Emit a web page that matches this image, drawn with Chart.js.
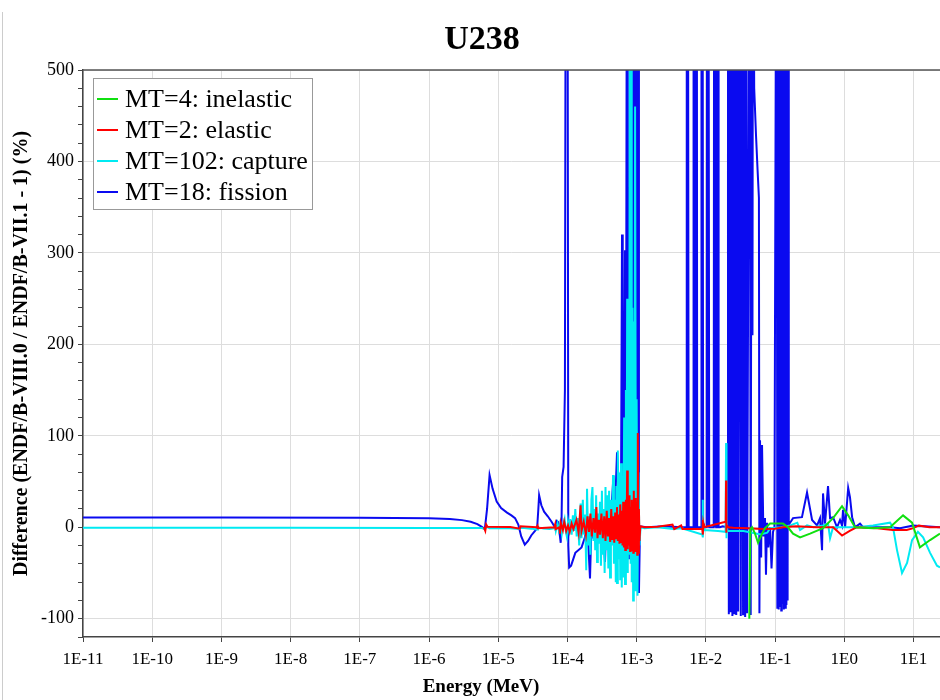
<!DOCTYPE html>
<html>
<head>
<meta charset="utf-8">
<title>U238</title>
<script src="https://cdn.jsdelivr.net/npm/chart.js@4.4.1/dist/chart.umd.min.js"></script>
<style>
  html, body { margin: 0; padding: 0; background: #fff; }
  canvas { display: block; }
</style>
</head>
<body>
<canvas id="chart" width="940" height="700"></canvas>
<script>
const chartTitle = 'U238';
const xTitle = 'Energy (MeV)';
const yTitle = 'Difference (ENDF/B-VIII.0 / ENDF/B-VII.1 - 1) (%)';

// decade exponents for the energy axis labels (1E-11 ... 1E1)
const energyDecades = [-11, -10, -9, -8, -7, -6, -5, -4, -3, -2, -1, 0, 1];
const diffMin = -120;
const diffMax = 500;

// MT=4 inelastic (starts at threshold)
const inelasticE = [0.0425, 0.044, 0.0466, 0.0514, 0.0568, 0.0649, 0.0716, 0.0847, 0.1, 0.1306, 0.154, 0.182,
  0.23, 0.321, 0.494, 0.689, 0.929, 1.14, 1.43, 2.61, 4.59, 7.08, 9.55, 12.4, 17.4, 24.2];
const inelasticDiff = [-100, -2, 0, -7, -17, -7, -1, 4, 4, 4, 0, -7,
  -11, -7, -1, 10, 23, 13, 0, -1, 0, 13, 5, -22, -14, -7];

// MT=2 elastic
const elasticE = [6.2e-6, 6.5e-6, 6.7e-6, 7.0e-6, 1.5e-5, 2.05e-5, 2.1e-5, 3.6e-5, 3.7e-5, 3.75e-5, 6.5e-5, 6.65e-5,
  6.75e-5, 7.6e-5, 7.8e-5, 8.0e-5, 8.6e-5, 9.0e-5, 9.6e-5, 1.02e-4, 1.08e-4, 1.15e-4, 1.22e-4, 1.35e-4,
  1.45e-4, 1.55e-4, 1.6e-4, 1.72e-4, 1.85e-4, 1.95e-4, 2.05e-4, 2.15e-4, 2.25e-4, 2.38e-4, 2.5e-4, 2.62e-4,
  2.72e-4, 2.85e-4, 2.96e-4, 3.1e-4, 3.25e-4, 3.4e-4, 3.55e-4, 3.7e-4, 3.85e-4, 4.0e-4, 4.15e-4, 4.3e-4,
  4.45e-4, 4.6e-4, 4.75e-4, 4.9e-4, 5.05e-4, 5.2e-4, 5.35e-4, 5.5e-4, 5.65e-4, 5.8e-4, 5.95e-4, 6.1e-4,
  6.25e-4, 6.4e-4, 6.55e-4, 6.7e-4, 6.85e-4, 7.0e-4, 7.15e-4, 7.3e-4, 7.45e-4, 7.6e-4, 7.75e-4, 7.9e-4,
  8.05e-4, 8.2e-4, 8.35e-4, 8.5e-4, 8.65e-4, 8.8e-4, 8.95e-4, 9.1e-4, 9.25e-4, 9.4e-4, 9.55e-4, 9.7e-4,
  9.85e-4, 1.0e-3, 1.02e-3, 1.04e-3, 1.06e-3, 1.08e-3, 1.1e-3, 1.13e-3, 1.3e-3, 2.0e-3, 3.3e-3, 3.5e-3,
  4.4e-3, 4.6e-3, 8.9e-3, 9.0e-3, 9.1e-3, 9.2e-3, 9.4e-3, 1.94e-2, 1.96e-2, 1.97e-2, 1.99e-2, 2.1e-2,
  2.5e-2, 4.0e-2, 5.5e-2, 7.0e-2, 0.1, 0.13, 0.2, 0.4, 0.69, 0.93, 1.2, 1.5, 3.0, 5.0, 8.0, 10.0, 12.0, 17.0, 24.2];
const elasticDiff = [0, -4, 3, 0.5, 0.3, -1.5, 1, 0, 1.5, -1, 0, 3,
  -2, 0, -7, 5, -3, 6, -4, 2, -5, 4, -2, 8,
  -6, 24, -4, 6, -8, 12, -5, 15, -10, 10, -6, 22,
  -12, 8, -8, 15, -12, 12, -15, 18, -10, 10, -16, 20,
  -14, 12, -17, 16, -12, 22, -15, 14, -18, 25, -16, 18,
  -20, 28, -22, 20, -25, 30, -18, 62, -24, 26, -20, 35,
  -26, 22, -22, 30, -25, 20, -28, 40, -20, 25, -26, 32,
  -24, 28, -30, 103, -28, 20, -15, 1, 0, 0.5, 3, -2,
  2, -2, -2, 8, -8, 4, 0, 6, 51, -6, 3, 0,
  -0.5, -1, -1.5, -2, -1.5, 0, 1, 0, 0, -9, -4, 0, -1, -3, -3, -1, 2, 0, 0];

// MT=102 capture
const captureE = [1e-11, 1e-8, 1e-6, 5.8e-6, 6.4e-6, 6.8e-6, 7.5e-6, 1.5e-5, 2.0e-5, 2.2e-5, 3.0e-5, 3.65e-5,
  3.75e-5, 4.5e-5, 5.5e-5, 6.4e-5, 6.6e-5, 6.8e-5, 7.2e-5, 7.5e-5, 7.9e-5, 8.3e-5, 8.7e-5, 9.1e-5,
  9.5e-5, 9.8e-5, 1.02e-4, 1.06e-4, 1.1e-4, 1.15e-4, 1.2e-4, 1.25e-4, 1.3e-4, 1.36e-4, 1.42e-4, 1.48e-4,
  1.55e-4, 1.6e-4, 1.67e-4, 1.72e-4, 1.8e-4, 1.87e-4, 1.92e-4, 2.0e-4, 2.08e-4, 2.15e-4, 2.22e-4, 2.3e-4,
  2.38e-4, 2.45e-4, 2.52e-4, 2.6e-4, 2.68e-4, 2.75e-4, 2.85e-4, 2.95e-4, 3.05e-4, 3.15e-4, 3.25e-4, 3.35e-4,
  3.45e-4, 3.55e-4, 3.65e-4, 3.78e-4, 3.9e-4, 4.0e-4, 4.13e-4, 4.25e-4, 4.4e-4, 4.56e-4, 4.7e-4, 4.88e-4,
  5.0e-4, 5.1e-4, 5.21e-4, 5.35e-4, 5.5e-4, 5.65e-4, 5.8e-4, 5.95e-4, 6.1e-4, 6.25e-4, 6.4e-4, 6.6e-4,
  6.8e-4, 7.0e-4, 7.15e-4, 7.3e-4, 7.45e-4, 7.6e-4, 7.8e-4, 8.04e-4, 8.2e-4, 8.35e-4, 8.5e-4, 8.7e-4,
  8.9e-4, 9.1e-4, 9.3e-4, 9.5e-4, 9.8e-4, 1.0e-3, 1.03e-3, 1.06e-3, 1.1e-3, 1.14e-3, 1.3e-3, 2.0e-3,
  3.4e-3, 4.5e-3, 8.9e-3, 9.0e-3, 9.1e-3, 9.3e-3, 9.6e-3, 1.5e-2, 1.93e-2, 1.96e-2, 1.98e-2, 2.0e-2,
  2.05e-2, 3.5e-2, 5.5e-2, 6.2e-2, 7.7e-2, 8.5e-2, 0.12, 0.165, 0.21, 0.23, 0.29, 0.36, 0.494, 0.583,
  0.624, 0.689, 0.869, 1.53, 2.61, 4.59, 5.07, 5.79, 6.84, 8.09, 9.55, 11.6, 13.8, 17.4, 21.9, 24.2];
const captureDiff = [-0.6, -0.6, -0.7, -0.8, -2, 0.5, -1, -1, -2, -0.5, -1.5, -2.5,
  0, -1.5, -2, -1, 3, -4, 4, -3, 5, -7, 3, 9,
  -5, -10, 6, -3, 9, -8, 13, -4, 20, -10, 10, -20,
  26, -12, 30, -8, 14, -47, 42, -20, 12, -30, 30, 44,
  -15, 20, -25, 35, -38, 15, -18, 28, -42, 40, -30, 20,
  -50, 44, -25, 35, -45, 40, -55, 30, -20, 57, -40, 30,
  -60, 45, -61, 84, -35, 60, -58, 70, -66, 50, -55, 120,
  -62, 150, -45, 250, -50, 200, -30, 800, -40, 800, -60, 240,
  -80, 225, -70, 460, -69, 140, -75, 60, -20, 0, -1, 0,
  -2, -1, -8, 30, -11, 3, -3, -4, -5, 92, -12, 5,
  -4, -4, -7, -8, -6, -1, 0, 2, 5, -3, 2, 0, 2, 4,
  -12, 0, 0, 0, 2, 5, 0, -25, -50, -39, -14, -5, -11, -28, -42, -44];

// MT=18 fission
const fissionE = [1e-11, 1e-9, 1e-7, 1e-6, 2e-6, 3e-6, 4e-6, 5e-6, 5.8e-6, 6.4e-6, 6.9e-6, 7.5e-6,
  8.3e-6, 9.5e-6, 1.1e-5, 1.34e-5, 1.55e-5, 1.75e-5, 1.95e-5, 2.15e-5, 2.42e-5, 2.7e-5, 3.0e-5, 3.4e-5,
  3.65e-5, 3.8e-5, 3.9e-5, 4.2e-5, 4.6e-5, 5.2e-5, 5.9e-5, 6.6e-5, 7.0e-5, 7.3e-5, 7.6e-5, 8.0e-5,
  8.2e-5, 8.4e-5, 8.8e-5, 9.2e-5, 9.5e-5, 1.0e-4, 1.03e-4, 1.06e-4, 1.13e-4, 1.3e-4, 1.6e-4, 1.79e-4,
  1.9e-4, 1.99e-4, 2.12e-4, 2.22e-4, 2.34e-4, 2.68e-4, 2.96e-4, 3.16e-4, 3.49e-4, 3.73e-4, 3.86e-4, 4.13e-4,
  4.56e-4, 4.88e-4, 5.21e-4, 5.6e-4, 5.9e-4, 6.15e-4, 6.3e-4, 6.5e-4, 6.8e-4, 7.0e-4, 7.26e-4, 7.4e-4,
  7.55e-4, 7.8e-4, 8.04e-4, 8.3e-4, 8.59e-4, 8.9e-4, 9.16e-4, 9.5e-4, 9.8e-4, 1.02e-3, 1.05e-3, 1.08e-3,
  1.12e-3, 1.4e-3, 2.5e-3, 4.5e-3,
  5.25e-3, 5.3e-3, 5.42e-3, 5.5e-3, 5.65e-3,
  6.55e-3, 6.65e-3, 6.8e-3, 6.9e-3, 7.05e-3, 7.15e-3, 7.3e-3, 7.4e-3, 7.5e-3,
  8.55e-3, 8.65e-3, 8.85e-3, 8.95e-3, 9.15e-3,
  1.03e-2, 1.045e-2, 1.07e-2, 1.09e-2, 1.12e-2,
  1.3e-2, 1.32e-2, 1.35e-2, 1.38e-2, 1.41e-2, 1.44e-2, 1.48e-2, 1.5e-2, 1.53e-2,
  1.6e-2, 1.75e-2, 2.05e-2,
  2.09e-2, 2.15e-2, 2.21e-2, 2.28e-2, 2.35e-2, 2.42e-2, 2.5e-2, 2.58e-2, 2.66e-2, 2.75e-2, 2.85e-2, 2.93e-2,
  3.1e-2, 3.2e-2, 3.32e-2, 3.45e-2, 3.56e-2, 3.7e-2, 3.82e-2, 3.95e-2,
  4.3e-2, 4.45e-2, 4.62e-2, 4.72e-2, 4.81e-2, 5.0e-2, 5.3e-2, 5.6e-2, 5.85e-2, 5.95e-2, 6.07e-2,
  6.3e-2, 6.49e-2, 6.8e-2, 7.16e-2, 7.4e-2, 7.66e-2, 8.0e-2, 8.47e-2, 8.9e-2, 9.35e-2, 9.8e-2,
  0.105, 0.108, 0.11, 0.113, 0.115, 0.118, 0.12, 0.123, 0.125, 0.128, 0.131, 0.134,
  0.137, 0.14, 0.143, 0.146, 0.149, 0.152, 0.155, 0.158, 0.165,
  0.182, 0.245, 0.29, 0.343, 0.405, 0.447, 0.478, 0.494, 0.528, 0.583, 0.624, 0.689,
  0.787, 0.869, 0.929, 0.961, 1.03, 1.14, 1.21, 1.3, 1.43, 1.69, 1.87, 4.59, 6.4, 9.87, 24.2];
const fissionDiff = [10.8, 10.7, 10.5, 9.8, 9.0, 7.8, 6.0, 3.5, 0.5, -2, 20, 57,
  42, 28, 21, 16, 13, 10, 3, -10, -19, -15, -9, -4,
  -1, 20, 35, 24, 17, 12, 6, 0, 7, 6, -3, -17,
  0, 55, 66, 150, 800, 800, -20, -44, -42, -28, -22, -11,
  13, -14, -56, 0, -11, -12, -14, 15, -38, 33, -14, -5,
  48, 22, 82, 40, -25, 320, 50, -30, 303, 20, 800, -20,
  245, -35, 800, 120, 800, -50, 600, -60, 800, -40, 800, -72,
  1, 0, 1, 0,
  0, 800, 0, 800, 0,
  0, 800, 0, 800, 0, 800, 0, 800, 0,
  0, 800, 0, 800, 0,
  0, 800, 0, 800, 0,
  0, 800, 0, 800, 0, 800, 0, 800, 0,
  0, 1, 0,
  800, -95, 800, -93, 800, -97, 800, -95, 800, -96, 800, -92,
  800, -97, 800, -95, 800, -98, 800, -94,
  800, -96, 800, 210, 800, 480, 430, 390, 360, -94, 95,
  -33, 90, -10, 10, -52, 5, -22, 0, -45, -5, 0,
  800, -88, 800, -90, 800, -86, 800, -91, 800, -84, 800, -90,
  800, -88, 800, -85, 800, -80, 800, 3, 5,
  10, 11, 38, 8, 2, 10, -25, 37, 4, 45, 10, 11,
  0, 8, 2, 19, 0, 43, 33, 11, 0, 4, 0, 0, -1, 2, 0];

function toPoints(energies, diffs) {
  return energies.map((e, i) => ({ x: e, y: diffs[i] }));
}

const serif = '"Liberation Serif", "Times New Roman", serif';

// title, axis title, top frame line, and the boxed legend in the upper-left corner
const framePlugin = {
  id: 'frame',
  beforeDraw(chart) {
    const ctx = chart.ctx;
    ctx.save();
    ctx.fillStyle = '#fff';
    ctx.fillRect(0, 0, chart.width, chart.height);
    ctx.strokeStyle = '#cccccc';
    ctx.lineWidth = 1;
    ctx.beginPath();
    ctx.moveTo(2.5, 12);
    ctx.lineTo(2.5, chart.height);
    ctx.stroke();
    ctx.restore();
  },
  afterDraw(chart) {
    const { ctx, chartArea } = chart;
    ctx.save();
    ctx.strokeStyle = '#555';
    ctx.lineWidth = 1.5;
    ctx.beginPath();
    ctx.moveTo(chartArea.left, chartArea.top);
    ctx.lineTo(chartArea.right, chartArea.top);
    ctx.stroke();

    ctx.fillStyle = '#000';
    ctx.textAlign = 'center';
    ctx.textBaseline = 'middle';
    ctx.font = 'bold 34px ' + serif;
    ctx.fillText(chartTitle, 482, 40);
    ctx.font = 'bold 19px ' + serif;
    ctx.fillText(xTitle, 481, 687);

    const bx = chartArea.left + 10, by = chartArea.top + 8, bw = 219, bh = 131;
    ctx.fillStyle = '#fff';
    ctx.fillRect(bx, by, bw, bh);
    ctx.strokeStyle = '#999';
    ctx.lineWidth = 1;
    ctx.strokeRect(bx + 0.5, by + 0.5, bw, bh);
    ctx.font = '26px ' + serif;
    ctx.textAlign = 'left';
    chart.data.datasets.forEach((ds, i) => {
      const y = by + 21 + i * 31;
      ctx.strokeStyle = ds.borderColor;
      ctx.lineWidth = 2;
      ctx.beginPath();
      ctx.moveTo(bx + 4, y);
      ctx.lineTo(bx + 25, y);
      ctx.stroke();
      ctx.fillStyle = '#000';
      ctx.fillText(ds.label, bx + 32, y + 1);
    });
    ctx.restore();
  }
};

const lineStyle = { borderWidth: 2, pointRadius: 0, tension: 0, fill: false };

new Chart(document.getElementById('chart'), {
  type: 'line',
  data: {
    datasets: [
      { label: 'MT=4: inelastic', data: toPoints(inelasticE, inelasticDiff), borderColor: '#10e010', ...lineStyle },
      { label: 'MT=2: elastic', data: toPoints(elasticE, elasticDiff), borderColor: '#ff0000', ...lineStyle },
      { label: 'MT=102: capture', data: toPoints(captureE, captureDiff), borderColor: '#00eaf2', ...lineStyle },
      { label: 'MT=18: fission', data: toPoints(fissionE, fissionDiff), borderColor: '#0a0af0', ...lineStyle }
    ]
  },
  options: {
    responsive: false,
    animation: false,
    devicePixelRatio: 1,
    layout: { padding: { top: 70, left: 0, right: 0, bottom: 0 } },
    plugins: {
      legend: { display: false },
      title: { display: false },
      tooltip: { enabled: false }
    },
    scales: {
      x: {
        type: 'logarithmic',
        position: 'bottom',
        min: 1e-11,
        max: 24.2,
        afterBuildTicks: scale => {
          scale.ticks = energyDecades.map(k => ({ value: Math.pow(10, k) }));
        },
        afterFit: scale => { scale.height = 63; },
        ticks: {
          autoSkip: false,
          maxRotation: 0,
          padding: 7,
          color: '#000',
          font: { family: serif, size: 17 },
          callback: v => '1E' + Math.round(Math.log10(v))
        },
        grid: { color: '#dddddd', tickColor: '#444', tickLength: 5 },
        border: { color: '#444', width: 1.5 },
        title: { display: false }
      },
      y: {
        min: diffMin,
        max: diffMax,
        afterBuildTicks: scale => {
          const t = [];
          for (let v = diffMin; v <= diffMax; v += 20) t.push({ value: v });
          scale.ticks = t;
        },
        afterFit: scale => { scale.width = 83; },
        ticks: {
          autoSkip: false,
          padding: 4,
          color: '#000',
          font: { family: serif, size: 18 },
          callback: v => (v % 100 === 0 ? String(v) : '')
        },
        grid: {
          color: c => (c.tick && c.tick.value % 100 === 0 ? '#dddddd' : 'rgba(0,0,0,0)'),
          tickColor: '#444',
          tickLength: 5
        },
        border: { color: '#444', width: 1.5 },
        title: {
          display: true,
          text: yTitle,
          color: '#000',
          font: { family: serif, size: 20, weight: 'bold' },
          padding: { top: 10, bottom: 0 }
        }
      }
    }
  },
  plugins: [framePlugin]
});
</script>
</body>
</html>
